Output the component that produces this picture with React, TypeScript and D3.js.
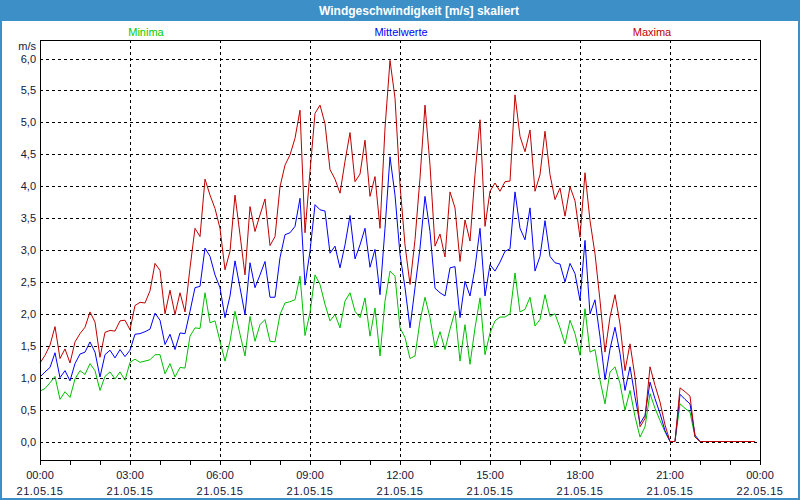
import React from "react";
import * as d3 from "d3";

const title = "Windgeschwindigkeit [m/s] skaliert";
const seriesNames = ["Minima", "Mittelwerte", "Maxima"];
const seriesColors = ["#00c000", "#0000ff", "#c00000"];
const legendX = [146, 401, 652];

const yTicks = [0, 0.5, 1, 1.5, 2, 2.5, 3, 3.5, 4, 4.5, 5, 5.5, 6];
const xTickHours = [0, 3, 6, 9, 12, 15, 18, 21, 24];
const xTickTimes = ["00:00", "03:00", "06:00", "09:00", "12:00", "15:00", "18:00", "21:00", "00:00"];
const xTickDates = ["21.05.15", "21.05.15", "21.05.15", "21.05.15", "21.05.15", "21.05.15", "21.05.15", "21.05.15", "22.05.15"];

// 10-minute samples from 00:00 to 23:50
const minima = [
  0.79, 0.83, 0.92, 1.02, 0.66, 0.78, 0.69, 0.98, 1.11, 1.05, 1.22, 1.11, 0.8, 1.02, 1.09, 0.98, 1.09, 0.96,
  1.24, 1.29, 1.24, 1.26, 1.28, 1.36, 1.36, 1.06, 1.22, 1.01, 1.16, 1.15, 1.65, 1.78, 1.77, 2.33, 1.86, 1.89,
  1.57, 1.26, 1.57, 2.04, 1.68, 1.34, 1.96, 1.57, 1.83, 1.91, 1.57, 1.56, 1.99, 2.17, 2.19, 2.22, 2.59, 1.66,
  2.02, 2.61, 2.46, 2.15, 1.89, 1.99, 1.78, 2.2, 2.33, 2.04, 1.94, 2.25, 1.65, 2.09, 1.34, 2.2, 2.67, 2.59,
  1.78, 1.63, 1.3, 1.34, 1.89, 2.26, 1.94, 1.47, 1.72, 1.44, 1.76, 2.04, 1.26, 1.83, 1.21, 1.78, 2.25, 1.36,
  1.7, 1.89, 1.95, 1.95, 2.0, 2.64, 2.03, 2.07, 2.26, 1.81, 1.91, 2.3, 1.96, 2.0, 1.78, 1.53, 1.9, 1.69,
  1.35, 2.08, 1.4, 1.44, 0.96, 0.59, 1.09, 1.17, 0.91, 0.49, 0.8, 0.39, 0.07, 0.23, 0.75, 0.52, 0.33, 0.15,
  0, 0, 0.59, 0.52, 0.46, 0.07, 0, 0, 0, 0, 0, 0, 0, 0, 0, 0, 0, 0,
];
const mittelwerte = [
  1.01, 1.09, 1.16, 1.39, 1.0, 1.11, 0.95, 1.22, 1.37, 1.4, 1.56, 1.4, 1.01, 1.36, 1.43, 1.31, 1.44, 1.33,
  1.43, 1.68, 1.69, 1.72, 1.76, 2.01, 1.9, 1.52, 1.68, 1.44, 1.7, 1.69, 2.04, 2.41, 2.43, 3.03, 2.9, 2.61,
  2.41, 1.94, 2.28, 2.83, 2.41, 1.99, 2.8, 2.41, 2.61, 2.82, 2.26, 2.26, 2.88, 3.24, 3.27, 3.37, 3.81, 2.45,
  2.98, 3.71, 3.63, 3.61, 2.95, 3.06, 2.72, 3.08, 3.54, 2.86, 3.08, 3.34, 2.73, 3.01, 2.3, 3.34, 4.46, 3.86,
  2.93, 2.41, 1.78, 2.41, 3.03, 3.84, 3.29, 2.4, 2.33, 2.28, 2.72, 2.74, 1.94, 2.51, 2.28, 2.72, 3.34, 2.28,
  2.77, 2.67, 2.81, 2.98, 3.02, 3.91, 3.34, 3.16, 3.66, 2.67, 2.9, 3.46, 2.9, 2.8, 2.78, 2.5, 2.79, 2.63,
  2.21, 3.15, 2.0, 2.22, 1.64, 0.97, 1.45, 1.79, 1.38, 0.8, 1.17, 0.7, 0.28, 0.41, 0.93, 0.67, 0.44, 0.17,
  0, 0, 0.74, 0.66, 0.59, 0.1, 0, 0, 0, 0, 0, 0, 0, 0, 0, 0, 0, 0,
];
const maxima = [
  1.23, 1.35, 1.51, 1.8, 1.3, 1.45, 1.23, 1.56, 1.69, 1.79, 2.03, 1.87, 1.32, 1.71, 1.74, 1.73, 1.89, 1.9,
  1.75, 2.13, 2.18, 2.17, 2.36, 2.79, 2.68, 2.0, 2.37, 1.99, 2.33, 2.03, 2.72, 3.34, 3.21, 4.11, 3.86, 3.65,
  3.34, 2.69, 2.98, 3.86, 3.24, 2.61, 3.68, 3.29, 3.55, 3.8, 3.07, 3.21, 3.99, 4.33, 4.49, 4.75, 5.19, 3.27,
  4.23, 5.14, 5.27, 4.98, 4.26, 4.11, 3.89, 4.39, 4.84, 4.07, 4.19, 4.72, 3.84, 4.15, 3.34, 4.91, 5.97, 5.38,
  4.02, 3.08, 2.46, 3.16, 4.13, 5.27, 4.33, 3.06, 3.25, 2.89, 3.91, 3.66, 2.82, 3.47, 3.14, 4.18, 5.04, 3.37,
  3.92, 4.05, 3.92, 4.07, 4.08, 5.43, 4.78, 4.54, 4.88, 3.92, 4.18, 4.86, 4.18, 3.79, 3.97, 3.53, 3.99, 3.77,
  3.2, 4.21, 3.46, 2.94, 2.21, 1.4, 1.95, 2.3, 1.84, 1.11, 1.53, 1.01, 0.23, 0.36, 1.17, 0.88, 0.62, 0.26,
  0, 0, 0.84, 0.78, 0.71, 0.07, 0, 0, 0, 0, 0, 0, 0, 0, 0, 0, 0, 0,
];

const W = 800;
const H = 500;
const left = 40;
const right = 760;
const top = 40;
const bottom = 460;
const FONT = "'Liberation Sans', Arial, sans-serif";
const TEXT = "#14143c";

export default function App() {
  const x = d3.scaleLinear().domain([0, 24]).range([left, right]);
  const y = d3.scaleLinear().domain([0, 6]).range([441.5, 58.5]);
  const hourTicks = d3.range(0, 25);
  const series = [minima, mittelwerte, maxima];
  const line = d3
    .line<number>()
    .x((_, i) => x(i / 6))
    .y((d) => y(d));
  const fmt = (v: number) => d3.format(".1f")(v).replace(".", ",");

  return (
    <svg
      width={W}
      height={H}
      style={{ position: "fixed", left: 0, top: 0, display: "block", background: "#fff" }}
      fontFamily={FONT}
    >
      <rect x={0} y={0} width={W} height={H} fill="#ffffff" />
      <rect x={0} y={0} width={W} height={21} fill="#3c8fc7" />
      <rect x={1} y={1} width={W - 2} height={H - 2} fill="none" stroke="#3c8fc7" strokeWidth={2} />
      <text x={419} y={15} fill="#ffffff" fontSize={12} fontWeight="bold" textAnchor="middle">
        {title}
      </text>

      {seriesNames.map((n, k) => (
        <text key={n} x={legendX[k]} y={36} fill={k === 0 ? "#00cc00" : seriesColors[k]} fontSize={11} textAnchor="middle">
          {n}
        </text>
      ))}

      <text x={36} y={50} fill={TEXT} fontSize={11} textAnchor="end">
        m/s
      </text>

      <g shapeRendering="crispEdges">
        {yTicks.map((t) => (
          <line key={"gy" + t} x1={left} x2={right} y1={Math.round(y(t)) + 0.5} y2={Math.round(y(t)) + 0.5} stroke="#000" strokeDasharray="3,3" />
        ))}
        {xTickHours.slice(1, -1).map((h) => (
          <line key={"gx" + h} x1={x(h) + 0.5} x2={x(h) + 0.5} y1={top} y2={bottom} stroke="#000" strokeDasharray="3,3" />
        ))}
        {hourTicks.map((h) => (
          <line key={"t" + h} x1={x(h) + 0.5} x2={x(h) + 0.5} y1={bottom} y2={bottom + 5} stroke="#000" />
        ))}
      </g>

      {yTicks.map((t) => (
        <text key={"ly" + t} x={36} y={Math.round(y(t)) + 4} fill={TEXT} fontSize={11} textAnchor="end">
          {fmt(t)}
        </text>
      ))}
      {xTickHours.map((h, k) => (
        <g key={"lx" + k}>
          <text x={x(h)} y={479} fill={TEXT} fontSize={11} textAnchor="middle">
            {xTickTimes[k]}
          </text>
          <text x={x(h)} y={495} fill={TEXT} fontSize={11} textAnchor="middle" letterSpacing={0.5}>
            {xTickDates[k]}
          </text>
        </g>
      ))}

      {series.map((s, k) => (
        <path key={"s" + k} d={line(s) || ""} fill="none" stroke={seriesColors[k]} strokeWidth={1} />
      ))}

      <rect x={left + 0.5} y={top + 0.5} width={right - left} height={bottom - top} fill="none" stroke="#000" shapeRendering="crispEdges" />
    </svg>
  );
}
